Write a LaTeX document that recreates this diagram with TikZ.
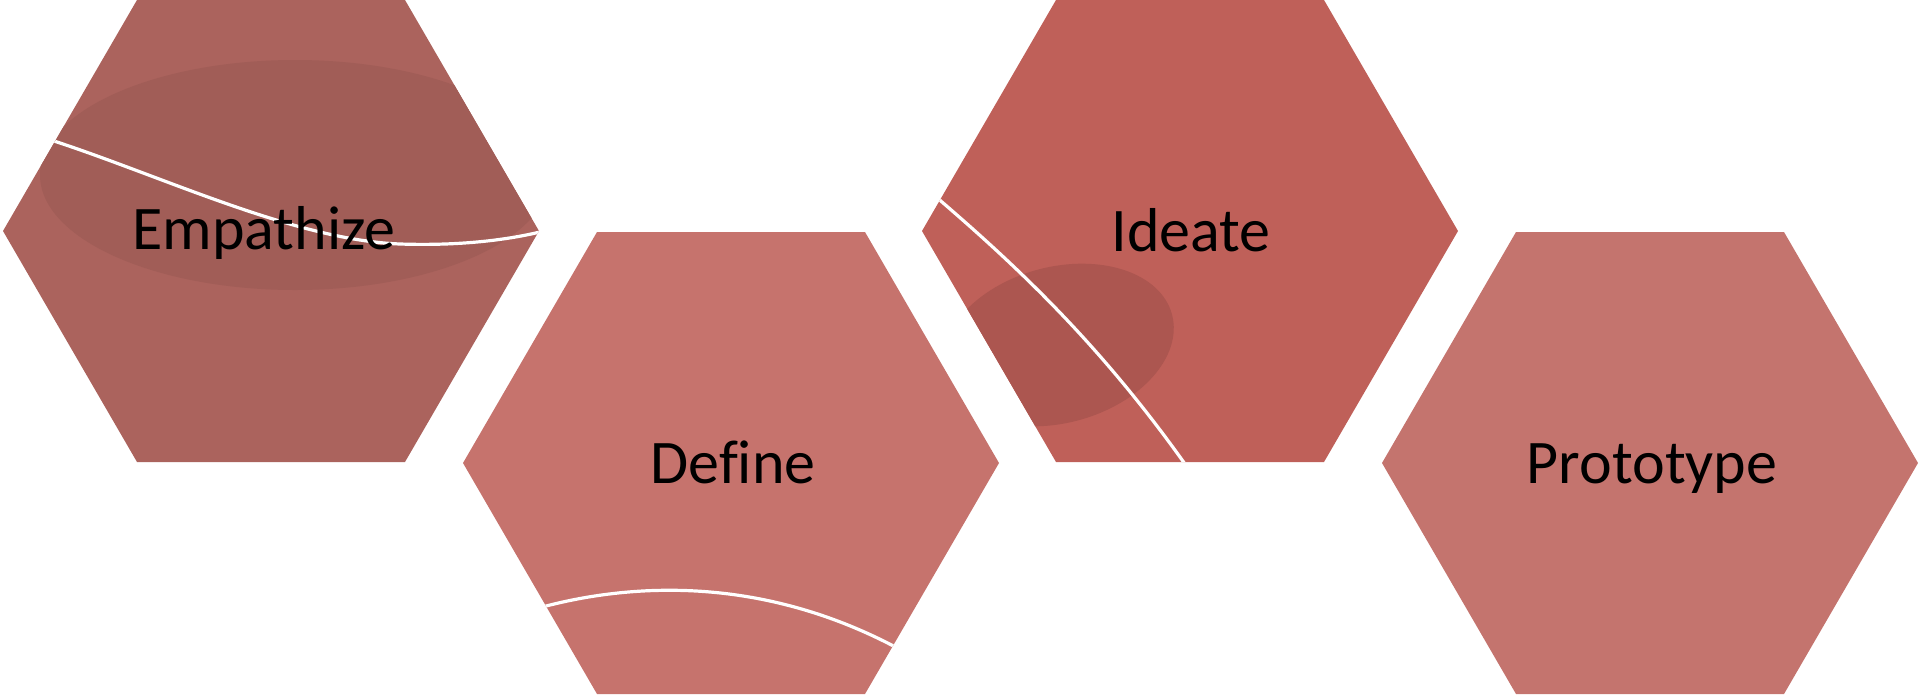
\documentclass[tikz,border=0pt]{standalone}
\usepackage{fontspec}
\setmainfont{Carlito}[Ligatures={NoCommon}]
\definecolor{hexA}{HTML}{AB635D}
\definecolor{hexAspot}{HTML}{A15D57}
\definecolor{hexB}{HTML}{C6736D}
\definecolor{hexC}{HTML}{BF6059}
\definecolor{hexCspot}{HTML}{AC5650}
\definecolor{hexD}{HTML}{C4746E}
\begin{document}
\begin{tikzpicture}[x=1pt, y=-1pt]
\tikzset{
  hexlabel/.style={anchor=base, text=black, inner sep=0pt},
  whitecurve/.style={draw=white, line width=3.2pt}}
\useasboundingbox (0,0) rectangle (1920,694);

% Empathize
\begin{scope}
  \clip (3,231) -- (137,0) -- (405,0) -- (539,231) -- (405,462) -- (137,462) -- cycle;
  \fill[hexA] (0,0) rectangle (560,480);
  \fill[hexAspot] (295,175) ellipse [x radius=255, y radius=115];
  \coordinate (e1) at (35,135);
  \coordinate (e2) at (400,244);
  \coordinate (e3) at (548,230);
  \draw[whitecurve] (e1) .. controls (150,170) and (290,240) .. (e2)
                       .. controls (460,246) and (510,240) .. (e3);
\end{scope}

% Define
\begin{scope}
  \clip (463,463) -- (597,232) -- (865,232) -- (999,463) -- (865,694) -- (597,694) -- cycle;
  \fill[hexB] (440,220) rectangle (1010,700);
  \coordinate (d1) at (535,609);
  \coordinate (d2) at (910,655);
  \draw[whitecurve] (d1) .. controls (620,585) and (760,570) .. (d2);
\end{scope}

% Ideate
\begin{scope}
  \clip (922,231) -- (1056,0) -- (1324,0) -- (1458,231) -- (1324,462) -- (1056,462) -- cycle;
  \fill[hexC] (900,0) rectangle (1470,480);
  \begin{scope}[shift={(1058,345)}, rotate=15]
    \fill[hexCspot] (0,0) ellipse [x radius=118, y radius=78];
  \end{scope}
  \coordinate (i1) at (928,190);
  \coordinate (i2) at (1192,474);
  \draw[whitecurve] (i1) .. controls (1010,260) and (1100,342) .. (i2);
\end{scope}

% Prototype
\begin{scope}
  \clip (1382,463) -- (1516,232) -- (1784,232) -- (1918,463) -- (1784,694) -- (1516,694) -- cycle;
  \fill[hexD] (1370,220) rectangle (1920,700);
\end{scope}

\node[hexlabel] (empathize) at (264,249) {\fontsize{62}{72}\selectfont Empathize};
\node[hexlabel] (define) at (733,483) {\fontsize{62}{72}\selectfont Define};
\node[hexlabel] (ideate) at (1191,251) {\fontsize{62}{72}\selectfont Ideate};
\node[hexlabel] (prototype) at (1652,483) {\fontsize{62}{72}\selectfont Prototype};
\end{tikzpicture}
\end{document}
